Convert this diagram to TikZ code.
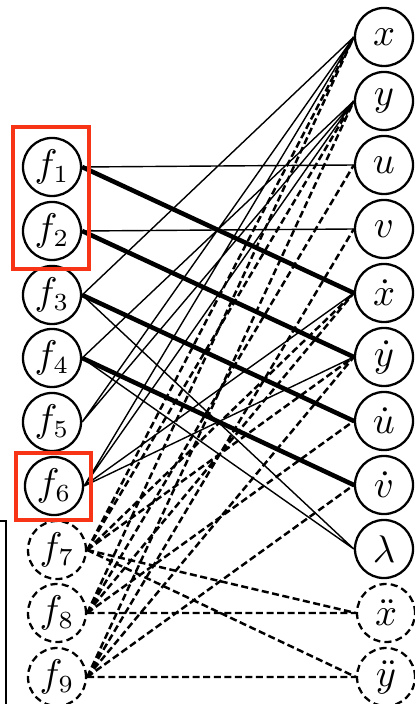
\documentclass[tikz,border=0pt]{standalone}
\usepackage{amsmath}
\usepackage{tikz}
\usetikzlibrary{arrows.meta}
\definecolor{boxred}{RGB}{248,52,22}

\begin{document}
\begin{tikzpicture}[x=0.01cm,y=-0.01cm,
  var/.style={draw,circle,line width=0.65pt,minimum size=0.58cm,inner sep=0pt,font=\fontsize{10.6}{12}\selectfont},
  dvar/.style={var,dash pattern=on 2pt off 1.2pt},
  thinedge/.style={line width=0.4pt},
  thickedge/.style={line width=1.3pt},
  dashedge/.style={line width=0.7pt,dash pattern=on 2pt off 1pt},
  redbox/.style={draw=boxred,line width=1pt}]
\useasboundingbox (0,0) rectangle (414,704);
% equations
\node[var] (f1) at (52,167) {$f_1$};
\node[var] (f2) at (52,231) {$f_2$};
\node[var] (f3) at (52,295) {$f_3$};
\node[var] (f4) at (52,358) {$f_4$};
\node[var] (f5) at (52,422) {$f_5$};
\node[var] (f6) at (54,486) {$f_6$};
\node[dvar] (f7) at (57,550) {$f_7$};
\node[dvar] (f8) at (57,613) {$f_8$};
\node[dvar] (f9) at (57,677) {$f_9$};
% variables
\node[var] (x) at (384,37) {$x$};
\node[var] (y) at (384,101) {$y$};
\node[var] (u) at (384,165) {$u$};
\node[var] (v) at (384,229) {$v$};
\node[var] (xd) at (384,293) {$\dot x$};
\node[var] (yd) at (384,357) {$\dot y$};
\node[var] (ud) at (384,421) {$\dot u$};
\node[var] (vd) at (384,485) {$\dot v$};
\node[var] (lam) at (384,549) {$\lambda$};
\node[dvar] (xdd) at (386,613) {$\ddot x$};
\node[dvar] (ydd) at (386,677) {$\ddot y$};
% incidences
\draw[thinedge] (f1.east)--(u.west) (f2.east)--(v.west)
  (f3.east)--(x.west) (f3.east)--(lam.west)
  (f4.east)--(y.west) (f4.east)--(lam.west)
  (f5.east)--(x.west) (f5.east)--(y.west)
  (f6.east)--(x.west) (f6.east)--(y.west) (f6.east)--(xd.west) (f6.east)--(yd.west);
\draw[thickedge] (f1.east)--(xd.west) (f2.east)--(yd.west)
  (f3.east)--(ud.west) (f4.east)--(vd.west);
\draw[dashedge] (f7.east)--(x.west) (f7.east)--(y.west) (f7.east)--(xd.west)
  (f7.east)--(yd.west) (f7.east)--(xdd.west) (f7.east)--(ydd.west)
  (f8.east)--(x.west) (f8.east)--(u.west) (f8.east)--(xd.west) (f8.east)--(ud.west) (f8.east)--(xdd.west)
  (f9.east)--(y.west) (f9.east)--(v.west) (f9.east)--(yd.west) (f9.east)--(vd.west) (f9.east)--(ydd.west);
% selected blocks
\draw[redbox] (13,127) rectangle (89,269);
\draw[redbox] (16,453) rectangle (91,520);
% frame of the next panel
\draw[line width=0.3pt] (0,521)--(6,521)--(6,704);
\end{tikzpicture}
\end{document}
